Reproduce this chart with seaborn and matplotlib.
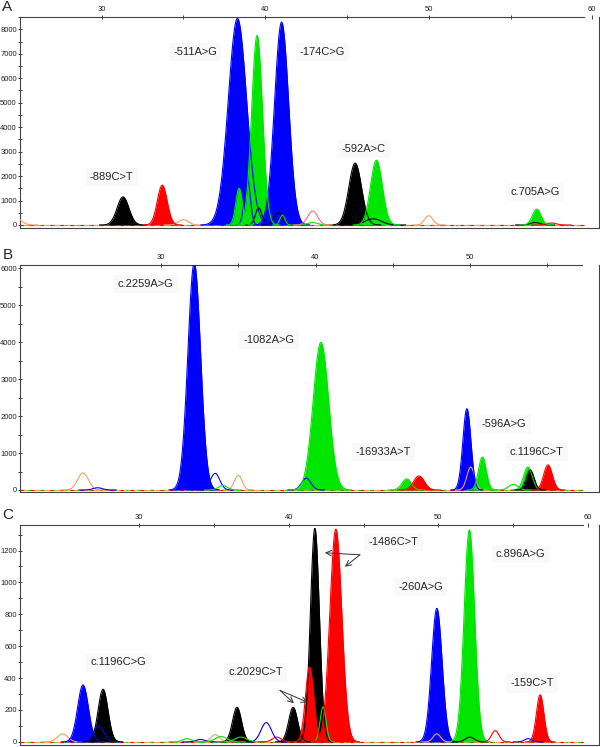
import numpy as np
import pandas as pd
import seaborn as sns
import matplotlib.pyplot as plt

sns.set_style("ticks")
plt.rcParams['font.family'] = ['Liberation Sans', 'DejaVu Sans']

DYE_COLORS = {"blue": "#0000ff", "green": "#00e600", "black": "#000000",
              "red": "#ff0000", "orange": "#f4a060", "pink": "#ff7070"}

# Panel A: peak size position, height (RFU), width, dye, called (filled)
a_pos = [24.7, 31.3, 33.7, 35.0, 38.3, 38.4, 38.9, 39.5, 39.6, 40.8, 41.0, 41.05,
         42.9, 42.9, 45.5, 46.6, 46.8, 50.0, 56.6, 56.5, 57.5]
a_height = [320, 1150, 1630, 220, 8450, 1500, 1950, 7750, 700, 500, 8300, 400,
            570, 100, 2530, 250, 2650, 380, 650, 100, 80]
a_width = [0.35, 0.36, 0.3, 0.3, 0.56, 0.2, 0.18, 0.33, 0.2, 0.25, 0.43, 0.15,
           0.3, 0.3, 0.39, 0.5, 0.36, 0.25, 0.26, 0.3, 0.3]
a_dye = ["orange", "black", "red", "orange", "blue", "green", "blue", "green", "black", "black",
         "blue", "green", "pink", "green", "black", "black", "green", "orange", "green", "black", "red"]
a_filled = [0, 1, 1, 0, 1, 1, 0, 1, 0, 0, 1, 0, 0, 0, 1, 0, 1, 0, 1, 0, 0]
a_labels = ["-889C>T", "-511A>G", "-174C>G", "-592A>C", "c.705A>G"]
a_label_x = [30.6, 35.7, 43.5, 46.0, 56.5]
a_label_y = [1960, 7075, 7075, 3110, 1350]

# Panel B
b_pos = [24.95, 25.9, 32.15, 33.5, 34.0, 35.0, 39.4, 40.35, 45.9, 46.7, 49.8, 50.05,
         50.8, 52.8, 53.75, 53.9, 55.05]
b_height = [460, 60, 6150, 450, 120, 400, 320, 4000, 300, 380, 2200, 620,
            890, 150, 620, 540, 680]
b_width = [0.35, 0.3, 0.41, 0.3, 0.3, 0.25, 0.3, 0.5, 0.3, 0.35, 0.26, 0.25,
           0.25, 0.3, 0.28, 0.25, 0.28]
b_dye = ["orange", "blue", "blue", "blue", "green", "orange", "blue", "green", "green", "red",
         "blue", "orange", "green", "green", "green", "black", "red"]
b_filled = [0, 0, 1, 0, 0, 0, 0, 1, 1, 1, 1, 0, 1, 0, 1, 1, 1]
b_labels = ["c.2259A>G", "-1082A>G", "-16933A>T", "-596A>G", "c.1196C>T"]
b_label_x = [29.0, 37.0, 44.4, 52.2, 54.3]
b_label_y = [5575, 4060, 1030, 1790, 1030]

# Panel C
c_pos = [24.9, 26.26, 27.3, 27.6, 33.2, 34.1, 35.1, 35.5, 36.55, 36.8, 38.5, 39.2,
         40.3, 41.75, 41.4, 42.3, 43.15, 49.9, 49.9, 52.07, 52.1, 53.8, 56.0, 56.8]
c_height = [50, 357, 100, 330, 20, 15, 45, 33, 217, 30, 121, 30,
            217, 1340, 470, 220, 1335, 838, 50, 1330, 30, 70, 20, 295]
c_width = [0.35, 0.36, 0.35, 0.33, 0.3, 0.3, 0.3, 0.4, 0.3, 0.4, 0.35, 0.3,
           0.3, 0.3, 0.28, 0.2, 0.4, 0.35, 0.25, 0.35, 0.3, 0.25, 0.25, 0.25]
c_dye = ["orange", "blue", "blue", "black", "green", "blue", "orange", "green", "black", "green",
         "blue", "red", "black", "black", "red", "green", "red", "blue", "orange", "green",
         "black", "red", "blue", "red"]
c_filled = [0, 1, 0, 1, 0, 0, 0, 0, 1, 0, 0, 0, 1, 1, 1, 0, 1, 1, 0, 1, 0, 0, 0, 1]
c_labels = ["c.1196C>G", "c.2029C>T", "-1486C>T", "c.896A>G", "-260A>G", "-159C>T"]
c_label_x = [28.6, 37.8, 47.0, 55.5, 48.8, 56.25]
c_label_y = [498, 436, 1254, 1179, 973, 367]


def peak_frame(pos, height, width, dye):
    rows = []
    for i, (p, h, w, d) in enumerate(zip(pos, height, width, dye)):
        x = np.linspace(p - 4 * w, p + 4 * w, 80)
        y = h * np.exp(-0.5 * ((x - p) / w) ** 2)
        rows.append(pd.DataFrame({"x": x, "y": y, "peak": i, "dye": d}))
    return pd.concat(rows, ignore_index=True)


def draw_panel(ax, letter, pos, height, width, dye, filled, labels, lx, ly,
               xlim, top_end, ylim, ymajor, yminor, y_max_label):
    df = peak_frame(pos, height, width, dye)

    # baseline of the traces
    ax.plot([xlim[0], top_end], [0, 0], color=DYE_COLORS["orange"], lw=0.9, zorder=1)
    ax.plot([xlim[0], top_end], [0, 0], color=DYE_COLORS["red"], lw=0.8,
            ls=(0, (3, 6)), zorder=1)
    ax.plot([xlim[0], top_end], [0, 0], color=DYE_COLORS["green"], lw=0.8,
            ls=(4, (2, 9)), zorder=1)

    for i, f in enumerate(filled):
        if f:
            sub = df[df["peak"] == i]
            ax.fill_between(sub["x"], 0, sub["y"], color=DYE_COLORS[dye[i]], lw=0, zorder=2)

    sns.lineplot(data=df, x="x", y="y", hue="dye", units="peak", estimator=None,
                 palette=DYE_COLORS, legend=False, lw=0.8, sort=False, ax=ax, zorder=3)

    for t, x, y in zip(labels, lx, ly):
        ax.text(x, y, t, ha="center", va="center", fontsize=8, zorder=5,
                bbox=dict(facecolor="#f9f9f9", edgecolor="none", pad=3))

    ax.set_xlim(*xlim)
    ax.set_ylim(*ylim)
    ax.xaxis.tick_top()
    xt = [v for v in (30, 40, 50, 60) if v < xlim[1]]
    ax.set_xticks(xt)
    ax.set_xticks([v for v in (35, 45, 55) if v < xlim[1]], minor=True)
    ax.set_yticks(np.arange(0, y_max_label + 1, ymajor))
    ax.set_yticks(np.arange(0, ylim[1], yminor), minor=True)
    ax.tick_params(axis="both", which="both", direction="inout", length=3.5, width=0.6,
                   labelsize=5.5, pad=1, colors="#222222")
    ax.tick_params(axis="y", which="major", pad=0.5)
    ax.set_xlabel("")
    ax.set_ylabel("")
    for s in ax.spines.values():
        s.set_linewidth(0.8)
        s.set_color("#444444")
    ax.spines["top"].set_bounds(xlim[0], top_end)
    ax.set_facecolor("white")

    bbox = ax.get_position()
    ax.figure.text(0.004, bbox.y1 + 0.004, letter, fontsize=11, ha="left", va="bottom")


fig = plt.figure(figsize=(6.0, 7.47), dpi=100)
ax_a = fig.add_axes([0.0333, 0.6948, 0.965, 0.2824])
ax_b = fig.add_axes([0.0333, 0.3414, 0.965, 0.3038])
ax_c = fig.add_axes([0.0333, 0.0030, 0.965, 0.2942])

draw_panel(ax_a, "A", a_pos, a_height, a_width, a_dye, a_filled,
           a_labels, a_label_x, a_label_y,
           (25.0, 60.41), 59.5, (-123, 8503), 1000, 500, 8000)
draw_panel(ax_b, "B", b_pos, b_height, b_width, b_dye, b_filled,
           b_labels, b_label_x, b_label_y,
           (20.87, 58.35), 57.25, (-54, 6089), 1000, 500, 6000)
draw_panel(ax_c, "C", c_pos, c_height, c_width, c_dye, c_filled,
           c_labels, c_label_x, c_label_y,
           (22.05, 60.73), 59.66, (-18, 1360), 200, 100, 1200)

# arrows in panel C
arrow = dict(arrowstyle="->", color="#333333", lw=0.7, shrinkA=0, shrinkB=0)
for tip in [(42.42, 1186), (43.76, 1098)]:
    ax_c.annotate("", xy=tip, xytext=(44.76, 1173), arrowprops=arrow, zorder=6)
for tip in [(40.35, 242), (41.28, 248)]:
    ax_c.annotate("", xy=tip, xytext=(39.42, 323), arrowprops=arrow, zorder=6)

fig.savefig("out.png", dpi=100)
plt.close(fig)
